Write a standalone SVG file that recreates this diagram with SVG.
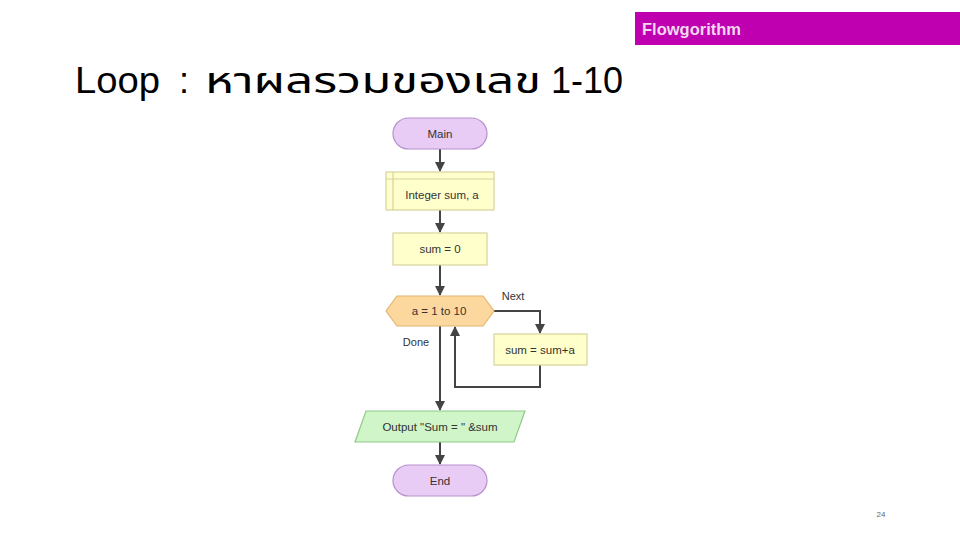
<svg xmlns="http://www.w3.org/2000/svg" width="960" height="540" viewBox="0 0 960 540">
<defs>
<style>
.lbl{font-family:"Liberation Sans",Arial,sans-serif;font-size:11.5px;fill:#333;text-anchor:middle;dominant-baseline:central}
.term{fill:#E8CCF5;stroke:#B690CC;stroke-width:1.2}
.proc{fill:#FFFFCC;stroke:#D6D29C;stroke-width:1.2}
.loop{fill:#FCD89E;stroke:#E2B46E;stroke-width:1.2}
.io{fill:#CFF5C8;stroke:#90C98A;stroke-width:1.2}
.edge{fill:none;stroke:#444;stroke-width:2}
.ttl{font-family:"Liberation Sans",Arial,sans-serif;font-size:36px;fill:#000}
</style>
<marker id="ah" viewBox="0 0 10 10" refX="9" refY="5" markerWidth="5" markerHeight="5" orient="auto" markerUnits="strokeWidth">
<path d="M0,0 L10,5 L0,10 z" fill="#444"/>
</marker>
</defs>
<rect width="960" height="540" fill="#fff"/>
<g id="header">
<rect x="635" y="12" width="325" height="33" fill="#BE00B0"/>
<text x="642" y="35" font-family="Liberation Sans,Arial,sans-serif" font-weight="bold" font-size="16.5" fill="#F2D8F0">Flowgorithm</text>
</g>
<g id="title">
<text class="ttl" x="75" y="93" textLength="85" lengthAdjust="spacingAndGlyphs">Loop</text>
<text class="ttl" x="179" y="93">:</text>
<text class="ttl" x="205" y="93" textLength="336" lengthAdjust="spacingAndGlyphs" style="font-family:'Noto Sans Thai','Noto Sans','DejaVu Sans',sans-serif">หาผลรวมของเลข</text>
<text class="ttl" x="623" y="93" text-anchor="end">1-10</text>
</g>
<g id="connectors">
<line class="edge" x1="440" y1="149" x2="440" y2="171" marker-end="url(#ah)"/>
<line class="edge" x1="440" y1="210" x2="440" y2="232" marker-end="url(#ah)"/>
<line class="edge" x1="440" y1="265" x2="440" y2="295" marker-end="url(#ah)"/>
<polyline class="edge" points="494,311 540,311 540,333" marker-end="url(#ah)"/>
<polyline class="edge" points="540,365 540,387 455,387 455,327" marker-end="url(#ah)"/>
<line class="edge" x1="440" y1="326" x2="440" y2="410" marker-end="url(#ah)"/>
<line class="edge" x1="440" y1="442" x2="440" y2="464" marker-end="url(#ah)"/>
<text class="lbl" x="513" y="296" style="font-size:11px">Next</text>
<text class="lbl" x="416" y="342" style="font-size:11px">Done</text>
</g>
<g id="main">
<rect class="term" x="393" y="118" width="94" height="31" rx="15.5"/>
<text class="lbl" x="440" y="134">Main</text>
</g>
<g id="declare">
<rect class="proc" x="386" y="172" width="108" height="38"/>
<line x1="386" y1="179" x2="494" y2="179" stroke="#D6D29C" stroke-width="1.2"/>
<line x1="393" y1="172" x2="393" y2="210" stroke="#D6D29C" stroke-width="1.2"/>
<text class="lbl" x="442" y="195">Integer sum, a</text>
</g>
<g id="assign0">
<rect class="proc" x="393" y="233" width="94" height="32"/>
<text class="lbl" x="440" y="249">sum = 0</text>
</g>
<g id="forloop">
<polygon class="loop" points="386,311 397,296 483,296 494,311 483,326 397,326"/>
<text class="lbl" x="439" y="311">a = 1 to 10</text>
</g>
<g id="assignsum">
<rect class="proc" x="494" y="334" width="93" height="31"/>
<text class="lbl" x="540" y="350">sum = sum+a</text>
</g>
<g id="output">
<polygon class="io" points="366,411 525,411 514,442 355,442"/>
<text class="lbl" x="440" y="427">Output "Sum = " &amp;sum</text>
</g>
<g id="end">
<rect class="term" x="393" y="465" width="94" height="31" rx="15.5"/>
<text class="lbl" x="440" y="481">End</text>
</g>
<text id="pagenum" x="881" y="517" font-family="Liberation Sans,Arial,sans-serif" font-size="8" fill="#666" text-anchor="middle">24</text>
</svg>
